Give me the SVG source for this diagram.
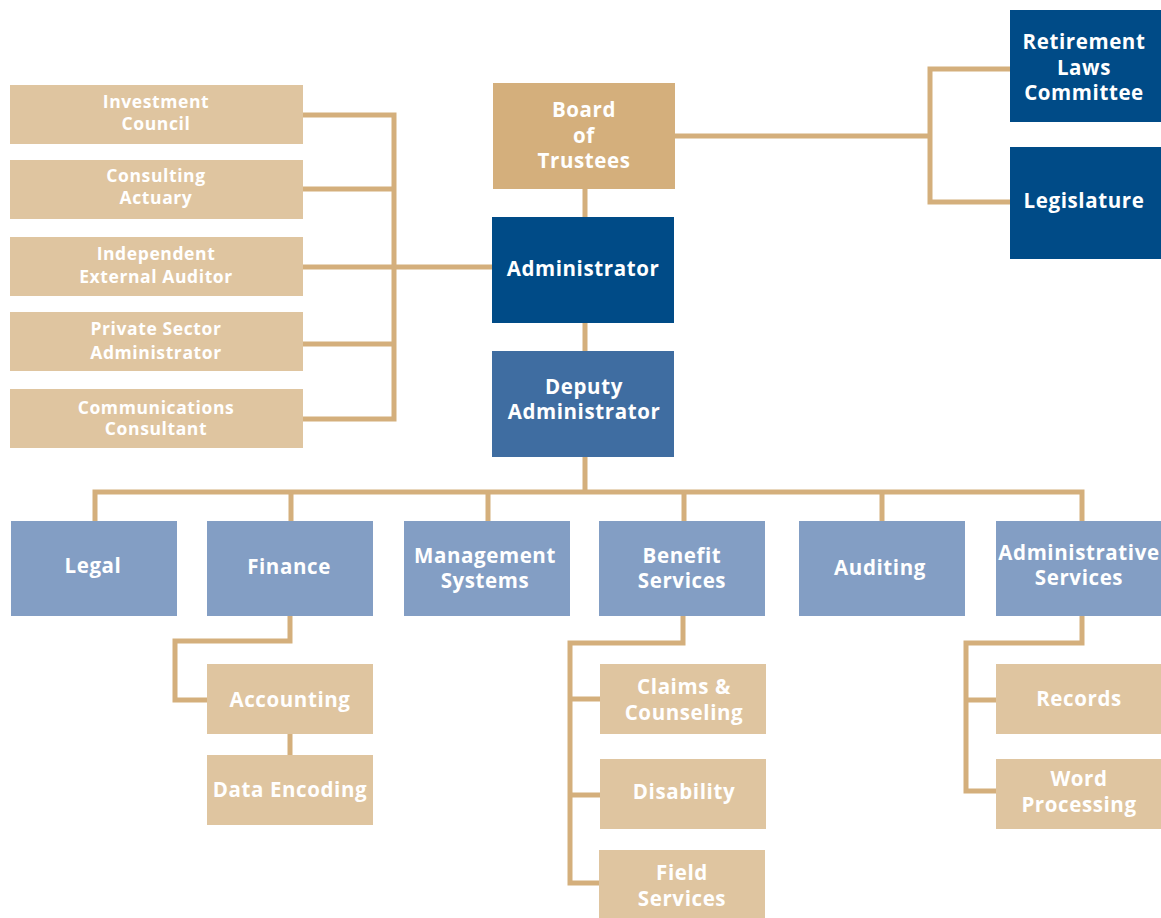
<svg xmlns="http://www.w3.org/2000/svg" width="1161" height="918" viewBox="0 0 1161 918">
<style>
.c{fill:none;stroke:#D4AF7C;stroke-width:5;stroke-linejoin:miter}
.tan{fill:#DFC5A0}
.board{fill:#D4AF7C}
.dark{fill:#004B87}
.dep{fill:#3F6DA1}
.lb{fill:#839EC4}
text{font-family:"Open Sans","Noto Sans","Liberation Sans",sans-serif;font-weight:700;fill:#fff;text-anchor:middle;dominant-baseline:central}
.s{font-size:17.5px;letter-spacing:0.6px}
.m{font-size:20.5px;letter-spacing:0.6px}
</style>
<rect width="1161" height="918" fill="#fff"/>
<g id="connectors">
<path class="c" d="M303 115H394V419H303M303 189H394M303 267H492M303 344H394"/>
<path class="c" d="M585 189V217M585 322V351M585 457V492"/>
<path class="c" d="M675 136H930M1010 69H930V202H1010"/>
<path class="c" d="M95 521V492H1082V521M291 492V521M488 492V521M684 492V521M882 492V521"/>
<path class="c" d="M290 616V641H175V700H207M290 734V755"/>
<path class="c" d="M683 616V643H570V883H599M570 699H600M570 795H600"/>
<path class="c" d="M1082 616V643H966V791H996M966 700H996"/>
</g>
<g id="investment-council"><rect class="tan" x="10" y="85" width="293" height="59"/><text class="s" x="156" y="101">Investment</text><text class="s" x="156" y="123">Council</text></g>
<g id="consulting-actuary"><rect class="tan" x="10" y="160" width="293" height="59"/><text class="s" x="156" y="175">Consulting</text><text class="s" x="156" y="197">Actuary</text></g>
<g id="independent-auditor"><rect class="tan" x="10" y="237" width="293" height="59"/><text class="s" x="156" y="253">Independent</text><text class="s" x="156" y="276">External Auditor</text></g>
<g id="private-sector"><rect class="tan" x="10" y="312" width="293" height="59"/><text class="s" x="156" y="328">Private Sector</text><text class="s" x="156" y="352">Administrator</text></g>
<g id="communications"><rect class="tan" x="10" y="389" width="293" height="59"/><text class="s" x="156" y="407">Communications</text><text class="s" x="156" y="428">Consultant</text></g>
<g id="board"><rect class="board" x="493" y="83" width="182" height="106"/><text class="m" x="584" y="109">Board</text><text class="m" x="584" y="135">of</text><text class="m" x="584" y="160">Trustees</text></g>
<g id="administrator"><rect class="dark" x="492" y="217" width="182" height="106"/><text class="m" x="583" y="268">Administrator</text></g>
<g id="deputy"><rect class="dep" x="492" y="351" width="182" height="106"/><text class="m" x="584" y="386">Deputy</text><text class="m" x="584" y="411">Administrator</text></g>
<g id="retirement-laws"><rect class="dark" x="1010" y="10" width="151" height="112"/><text class="m" x="1084" y="41">Retirement</text><text class="m" x="1084" y="67">Laws</text><text class="m" x="1084" y="92">Committee</text></g>
<g id="legislature"><rect class="dark" x="1010" y="147" width="151" height="112"/><text class="m" x="1084" y="200">Legislature</text></g>
<g id="legal"><rect class="lb" x="11" y="521" width="166" height="95"/><text class="m" x="93" y="565">Legal</text></g>
<g id="finance"><rect class="lb" x="207" y="521" width="166" height="95"/><text class="m" x="289" y="566">Finance</text></g>
<g id="management-systems"><rect class="lb" x="404" y="521" width="166" height="95"/><text class="m" x="485" y="555">Management</text><text class="m" x="485" y="580">Systems</text></g>
<g id="benefit-services"><rect class="lb" x="599" y="521" width="166" height="95"/><text class="m" x="682" y="555">Benefit</text><text class="m" x="682" y="580">Services</text></g>
<g id="auditing"><rect class="lb" x="799" y="521" width="166" height="95"/><text class="m" x="880" y="567">Auditing</text></g>
<g id="administrative-services"><rect class="lb" x="996" y="521" width="165" height="95"/><text class="m" x="1079" y="552">Administrative</text><text class="m" x="1079" y="577">Services</text></g>
<g id="accounting"><rect class="tan" x="207" y="664" width="166" height="70"/><text class="m" x="290" y="699">Accounting</text></g>
<g id="data-encoding"><rect class="tan" x="207" y="755" width="166" height="70"/><text class="m" x="290" y="789">Data  Encoding</text></g>
<g id="claims"><rect class="tan" x="600" y="664" width="166" height="70"/><text class="m" x="684" y="686">Claims &amp;</text><text class="m" x="684" y="712">Counseling</text></g>
<g id="disability"><rect class="tan" x="600" y="759" width="166" height="70"/><text class="m" x="684" y="791">Disability</text></g>
<g id="field-services"><rect class="tan" x="599" y="850" width="166" height="68"/><text class="m" x="682" y="872">Field</text><text class="m" x="682" y="898">Services</text></g>
<g id="records"><rect class="tan" x="996" y="664" width="165" height="70"/><text class="m" x="1079" y="698">Records</text></g>
<g id="word-processing"><rect class="tan" x="996" y="759" width="165" height="70"/><text class="m" x="1079" y="778">Word</text><text class="m" x="1079" y="804">Processing</text></g>
</svg>
